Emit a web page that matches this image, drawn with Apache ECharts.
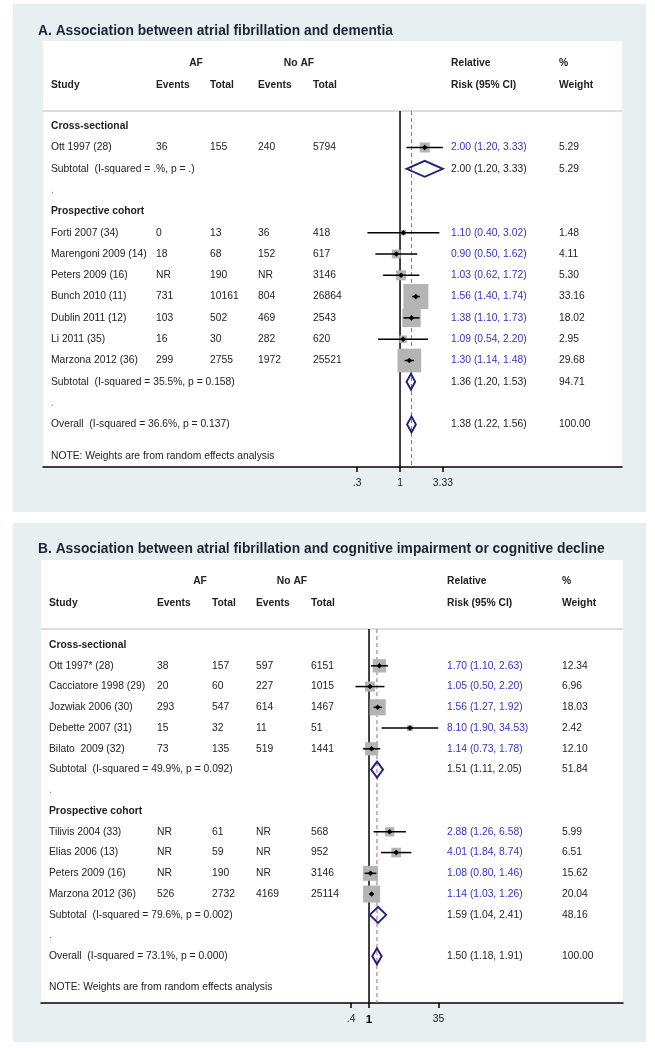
<!DOCTYPE html>
<html><head><meta charset="utf-8">
<script src="https://cdn.jsdelivr.net/npm/echarts@6/dist/echarts.min.js"></script>
<style>html,body{margin:0;padding:0;background:#fff}#chart{width:655px;height:1048px}</style>
</head><body><div id="chart"></div>
<script>
// ---------------- Panel A data ----------------
const titleA = 'A. Association between atrial fibrillation and dementia';
const groupsA = ['Cross-sectional', 'Prospective cohort'];
const studyA = ['Ott 1997 (28)', 'Forti 2007 (34)', 'Marengoni 2009 (14)', 'Peters 2009 (16)', 'Bunch 2010 (11)', 'Dublin 2011 (12)', 'Li 2011 (35)', 'Marzona 2012 (36)'];
const groupOfA = [0, 1, 1, 1, 1, 1, 1, 1];
const afEventsA = ['36', '0', '18', 'NR', '731', '103', '16', '299'];
const afTotalA = ['155', '13', '68', '190', '10161', '502', '30', '2755'];
const noEventsA = ['240', '36', '152', 'NR', '804', '469', '282', '1972'];
const noTotalA = ['5794', '418', '617', '3146', '26864', '2543', '620', '25521'];
const rrA = [2.00, 1.10, 0.90, 1.03, 1.56, 1.38, 1.09, 1.30];
const loA = [1.20, 0.40, 0.50, 0.62, 1.40, 1.10, 0.54, 1.14];
const hiA = [3.33, 3.02, 1.62, 1.72, 1.74, 1.73, 2.20, 1.48];
const wtA = [5.29, 1.48, 4.11, 5.30, 33.16, 18.02, 2.95, 29.68];
const subLabelA = ['Subtotal  (I-squared = .%, p = .)', 'Subtotal  (I-squared = 35.5%, p = 0.158)'];
const subRrA = [2.00, 1.36];
const subLoA = [1.20, 1.20];
const subHiA = [3.33, 1.53];
const subWtA = [5.29, 94.71];
const overallLabelA = 'Overall  (I-squared = 36.6%, p = 0.137)';
const overallA = [1.38, 1.22, 1.56, 100.00];
const tickValsA = [0.3, 1, 3.33];
const tickLabelsA = ['.3', '1', '3.33'];

// ---------------- Panel B data ----------------
const titleB = 'B. Association between atrial fibrillation and cognitive impairment or cognitive decline';
const groupsB = ['Cross-sectional', 'Prospective cohort'];
const studyB = ['Ott 1997* (28)', 'Cacciatore 1998 (29)', 'Jozwiak 2006 (30)', 'Debette 2007 (31)', 'Bilato  2009 (32)', 'Tilivis 2004 (33)', 'Elias 2006 (13)', 'Peters 2009 (16)', 'Marzona 2012 (36)'];
const groupOfB = [0, 0, 0, 0, 0, 1, 1, 1, 1];
const afEventsB = ['38', '20', '293', '15', '73', 'NR', 'NR', 'NR', '526'];
const afTotalB = ['157', '60', '547', '32', '135', '61', '59', '190', '2732'];
const noEventsB = ['597', '227', '614', '11', '519', 'NR', 'NR', 'NR', '4169'];
const noTotalB = ['6151', '1015', '1467', '51', '1441', '568', '952', '3146', '25114'];
const rrB = [1.70, 1.05, 1.56, 8.10, 1.14, 2.88, 4.01, 1.08, 1.14];
const loB = [1.10, 0.50, 1.27, 1.90, 0.73, 1.26, 1.84, 0.80, 1.03];
const hiB = [2.63, 2.20, 1.92, 34.53, 1.78, 6.58, 8.74, 1.46, 1.26];
const wtB = [12.34, 6.96, 18.03, 2.42, 12.10, 5.99, 6.51, 15.62, 20.04];
const subLabelB = ['Subtotal  (I-squared = 49.9%, p = 0.092)', 'Subtotal  (I-squared = 79.6%, p = 0.002)'];
const subRrB = [1.51, 1.59];
const subLoB = [1.11, 1.04];
const subHiB = [2.05, 2.41];
const subWtB = [51.84, 48.16];
const overallLabelB = 'Overall  (I-squared = 73.1%, p = 0.000)';
const overallB = [1.50, 1.18, 1.91, 100.00];
const tickValsB = [0.4, 1, 35];
const tickLabelsB = ['.4', '1', '35'];

const headerTop = ['AF', 'No AF', 'Relative', '%'];
const headerBottom = ['Study', 'Events', 'Total', 'Events', 'Total', 'Risk (95% CI)', 'Weight'];
const noteText = 'NOTE: Weights are from random effects analysis';

// ---------------- styling / layout ----------------
const FONT = '"Liberation Sans", Arial, Helvetica, sans-serif';
const FS = 10.3;
const TXT = '#222222';
const BLUE = '#3333c4';
const NAVY = '#20207a';
const PANEL_BG = '#e8eff1';

const panels = [
  {
    d: {groups: groupsA, study: studyA, groupOf: groupOfA, afE: afEventsA, afT: afTotalA, noE: noEventsA, noT: noTotalA,
        rr: rrA, lo: loA, hi: hiA, wt: wtA, subLabel: subLabelA, subRr: subRrA, subLo: subLoA, subHi: subHiA, subWt: subWtA,
        ovLabel: overallLabelA, ov: overallA, ticks: tickValsA, tickLabels: tickLabelsA},
    grid: {left: 43, right: 33, top: 41, bottom: 581},
    yMin: -4, yMax: 16, xMin: -4.354, xMax: 2.707,
    cols: {study: 8, ev: 113, tot: 167, ev2: 215, tot2: 270, rr: 408, wt: 516, af: 153, noaf: 256},
    hdrRows: [-2.97, -1.93], sepRow: -0.71, noteRow: 15.5, sqK: 4.35, boldOne: false
  },
  {
    d: {groups: groupsB, study: studyB, groupOf: groupOfB, afE: afEventsB, afT: afTotalB, noE: noEventsB, noT: noTotalB,
        rr: rrB, lo: loB, hi: hiB, wt: wtB, subLabel: subLabelB, subRr: subRrB, subLo: subLoB, subHi: subHiB, subWt: subWtB,
        ovLabel: overallLabelB, ov: overallB, ticks: tickValsB, tickLabels: tickLabelsB},
    grid: {left: 41, right: 32, top: 560, bottom: 45},
    yMin: -4.1, yMax: 17.25, xMin: -7.289, xMax: 5.644,
    cols: {study: 8, ev: 116, tot: 171, ev2: 215, tot2: 270, rr: 406, wt: 521, af: 159, noaf: 251},
    hdrRows: [-3.08, -2.02], sepRow: -0.77, noteRow: 16.5, sqK: 3.8, boldOne: true
  }
];

const fmtCI = (r, l, h) => r.toFixed(2) + ' (' + l.toFixed(2) + ', ' + h.toFixed(2) + ')';
const L = Math.log10;

const xAxes = [], yAxes = [], grids = [], series = [];

panels.forEach((P, pi) => {
  const d = P.d, c = P.cols;
  const gridW = 655 - P.grid.left - P.grid.right;
  grids.push({left: P.grid.left, right: P.grid.right, top: P.grid.top, bottom: P.grid.bottom,
              show: true, backgroundColor: '#ffffff', borderWidth: 0, containLabel: false});
  const xLog = xAxes.length;
  xAxes.push({
    type: 'value', gridIndex: pi, min: P.xMin, max: P.xMax,
    axisLine: {show: true, onZero: false, lineStyle: {color: '#000', width: 1.5}},
    axisTick: {show: true, length: 5, customValues: d.ticks.map(L), lineStyle: {color: '#000', width: 1.5}},
    axisLabel: {
      show: true, customValues: d.ticks.map(L), margin: 11, color: TXT, fontFamily: FONT, fontSize: FS,
      formatter: v => {
        let best = 0, bd = 1e9;
        d.ticks.forEach((t, i) => { const dd = Math.abs(L(t) - v); if (dd < bd) { bd = dd; best = i; } });
        const lab = d.tickLabels[best];
        return (P.boldOne && lab === '1') ? '{b|' + lab + '}' : lab;
      },
      rich: {b: {fontWeight: 'bold', fontSize: 11.5, fontFamily: FONT, color: '#000'}}
    },
    splitLine: {show: false}
  });
  const xTxt = xAxes.length;
  xAxes.push({type: 'value', gridIndex: pi, min: 0, max: gridW, show: false});
  yAxes.push({type: 'value', gridIndex: pi, min: P.yMin, max: P.yMax, inverse: true, show: false});

  // ---- build rows ----
  const texts = [];
  const sq = [], dia = [];
  let r = 0;
  const T = (x, row, text, opt) => texts.push(Object.assign({x, r: row, text, color: TXT, bold: false, align: 'left'}, opt || {}));
  T(c.af, P.hdrRows[0], headerTop[0], {bold: true, align: 'center'});
  T(c.noaf, P.hdrRows[0], headerTop[1], {bold: true, align: 'center'});
  T(c.rr, P.hdrRows[0], headerTop[2], {bold: true});
  T(c.wt, P.hdrRows[0], headerTop[3], {bold: true});
  [c.study, c.ev, c.tot, c.ev2, c.tot2, c.rr, c.wt].forEach((x, i) => T(x, P.hdrRows[1], headerBottom[i], {bold: true}));

  d.groups.forEach((g, gi) => {
    T(c.study, r, g, {bold: true}); r++;
    d.study.forEach((s, i) => {
      if (d.groupOf[i] !== gi) return;
      T(c.study, r, s); T(c.ev, r, d.afE[i]); T(c.tot, r, d.afT[i]); T(c.ev2, r, d.noE[i]); T(c.tot2, r, d.noT[i]);
      T(c.rr, r, fmtCI(d.rr[i], d.lo[i], d.hi[i]), {color: BLUE});
      T(c.wt, r, d.wt[i].toFixed(2));
      sq.push([L(d.rr[i]), r, L(d.lo[i]), L(d.hi[i]), d.wt[i]]);
      r++;
    });
    T(c.study, r, d.subLabel[gi]);
    T(c.rr, r, fmtCI(d.subRr[gi], d.subLo[gi], d.subHi[gi]));
    T(c.wt, r, d.subWt[gi].toFixed(2));
    dia.push([L(d.subRr[gi]), r, L(d.subLo[gi]), L(d.subHi[gi])]);
    r++;
    T(c.study, r, '.', {color: '#777'}); r++;
  });
  T(c.study, r, d.ovLabel);
  T(c.rr, r, fmtCI(d.ov[0], d.ov[1], d.ov[2]));
  T(c.wt, r, d.ov[3].toFixed(2));
  dia.push([L(d.ov[0]), r, L(d.ov[1]), L(d.ov[2])]);
  T(c.study, P.noteRow, noteText);

  series.push({
    type: 'custom', xAxisIndex: xTxt, yAxisIndex: pi, silent: true, z: 1, clip: false,
    data: [[0, P.sepRow]],
    renderItem: (params, api) => {
      const a = api.coord([0, P.sepRow]), b = api.coord([gridW, P.sepRow]);
      return {type: 'line', shape: {x1: a[0], y1: a[1], x2: b[0], y2: b[1]}, style: {stroke: '#d2d2d2', lineWidth: 1.5}};
    }
  });
  series.push({
    type: 'custom', xAxisIndex: xLog, yAxisIndex: pi, silent: true, z: 2, clip: false,
    data: [[0, 0], [L(d.ov[0]), 1]],
    renderItem: (params, api) => {
      const v = api.value(0);
      const a = api.coord([v, P.sepRow]), b = api.coord([v, P.yMax]);
      const dashed = api.value(1) === 1;
      return {type: 'line', shape: {x1: a[0], y1: a[1], x2: b[0], y2: b[1]},
              style: dashed ? {stroke: '#b8606e', lineWidth: 1, lineDash: [4, 3]} : {stroke: '#000', lineWidth: 1.5}};
    }
  });
  series.push({
    type: 'custom', xAxisIndex: xLog, yAxisIndex: pi, silent: true, z: 3, clip: false,
    data: sq,
    encode: {x: 0, y: 1},
    renderItem: (params, api) => {
      const cc = api.coord([api.value(0), api.value(1)]);
      const l = api.coord([api.value(2), api.value(1)]);
      const h = api.coord([api.value(3), api.value(1)]);
      const s = P.sqK * Math.sqrt(api.value(4));
      const m = 2.8;
      return {type: 'group', children: [
        {type: 'rect', shape: {x: cc[0] - s / 2, y: cc[1] - s / 2, width: s, height: s}, style: {fill: '#b4b4b4'}},
        {type: 'line', shape: {x1: l[0], y1: l[1], x2: h[0], y2: h[1]}, style: {stroke: '#000', lineWidth: 1.5}},
        {type: 'polygon', shape: {points: [[cc[0] - m, cc[1]], [cc[0], cc[1] - m], [cc[0] + m, cc[1]], [cc[0], cc[1] + m]]}, style: {fill: '#000'}}
      ]};
    }
  });
  series.push({
    type: 'custom', xAxisIndex: xLog, yAxisIndex: pi, silent: true, z: 4, clip: false,
    data: dia,
    encode: {x: 0, y: 1},
    renderItem: (params, api) => {
      const cc = api.coord([api.value(0), api.value(1)]);
      const l = api.coord([api.value(2), api.value(1)]);
      const h = api.coord([api.value(3), api.value(1)]);
      const hh = 8;
      return {type: 'polygon', shape: {points: [[l[0], cc[1]], [cc[0], cc[1] - hh], [h[0], cc[1]], [cc[0], cc[1] + hh]]},
              style: {fill: 'none', stroke: NAVY, lineWidth: 1.9, lineJoin: 'miter'}};
    }
  });
  series.push({
    type: 'custom', xAxisIndex: xTxt, yAxisIndex: pi, silent: true, z: 5, clip: false,
    data: texts.map(t => [t.x, t.r]),
    renderItem: (params, api) => {
      const t = texts[params.dataIndex];
      const p = api.coord([api.value(0), api.value(1)]);
      return {type: 'text', x: p[0], y: p[1], style: {
        text: t.text, fill: t.color, textAlign: t.align, textVerticalAlign: 'middle',
        font: (t.bold ? 'bold ' : '') + FS + 'px ' + FONT
      }};
    }
  });
});

const chart = echarts.init(document.getElementById('chart'), null, {renderer: 'canvas'});
chart.setOption({
  animation: false,
  backgroundColor: '#ffffff',
  graphic: [
    {type: 'rect', z: -100, silent: true, shape: {x: 13, y: 4, width: 633, height: 508}, style: {fill: PANEL_BG}},
    {type: 'rect', z: -100, silent: true, shape: {x: 13, y: 523, width: 633, height: 519}, style: {fill: PANEL_BG}}
  ],
  title: [
    {text: titleA, left: 38, top: 24, padding: 0, textStyle: {fontFamily: FONT, fontSize: 13.8, fontWeight: 'bold', color: '#1c2433'}},
    {text: titleB, left: 38, top: 542, padding: 0, textStyle: {fontFamily: FONT, fontSize: 13.8, fontWeight: 'bold', color: '#1c2433'}}
  ],
  grid: grids,
  xAxis: xAxes,
  yAxis: yAxes,
  series: series
});
</script>
</body></html>
